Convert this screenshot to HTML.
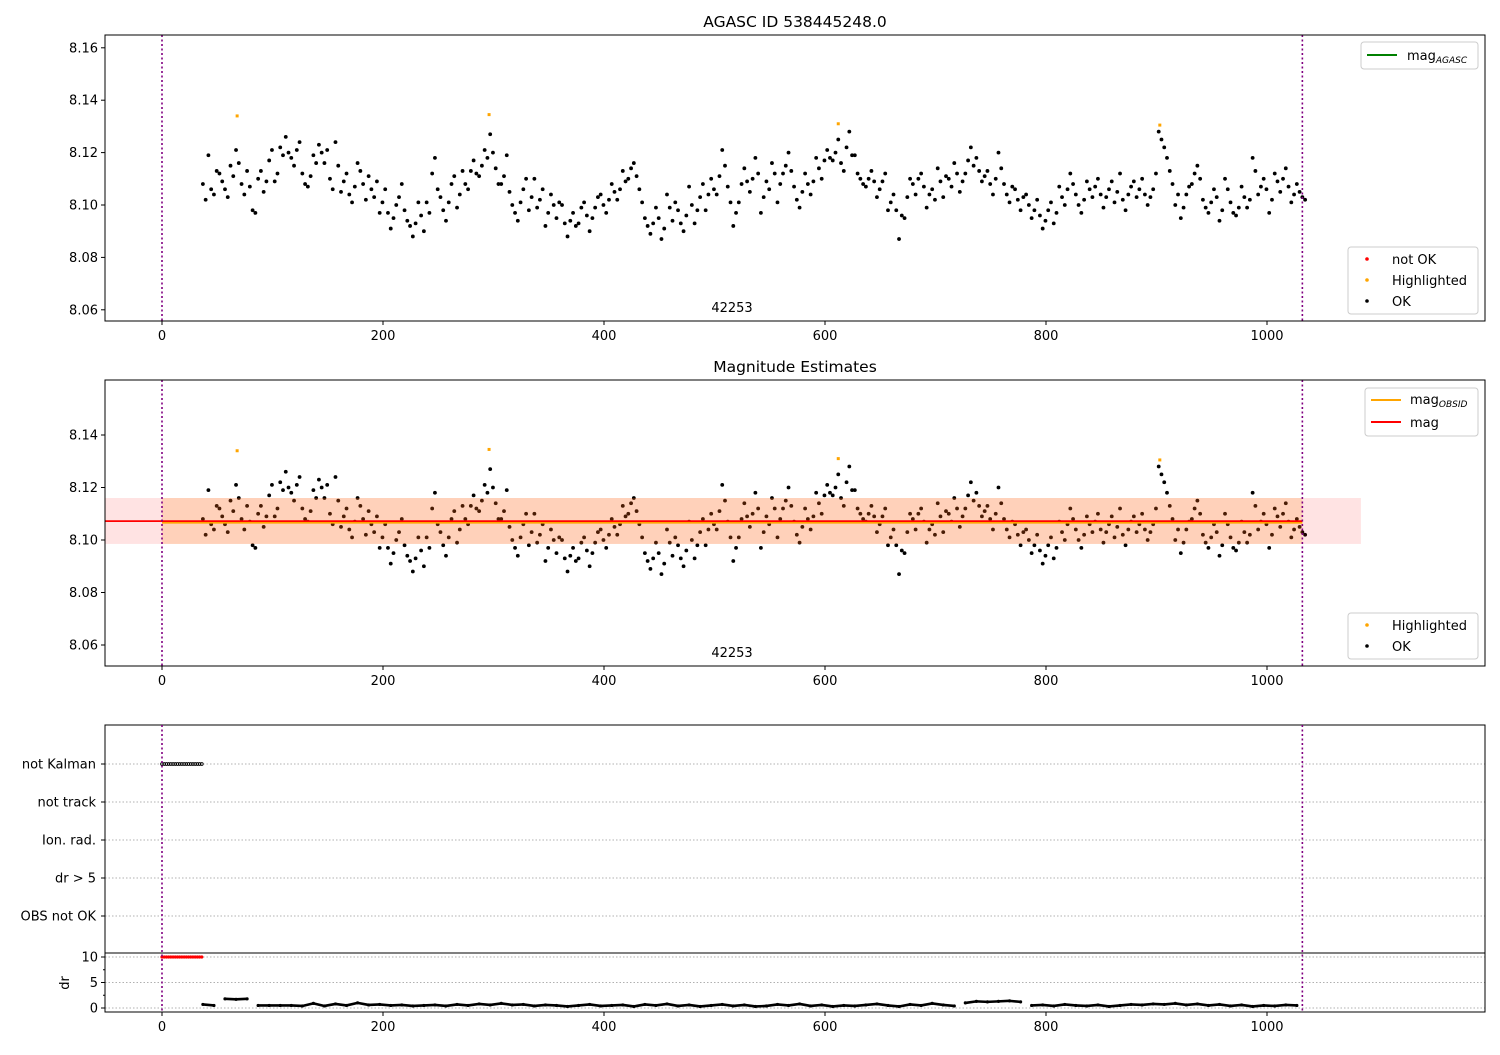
<!DOCTYPE html>
<html><head><meta charset="utf-8"><style>
body{margin:0;background:#fff}
svg text{font-family:"DejaVu Sans","Liberation Sans",sans-serif;font-size:13px;fill:#000}
</style></head><body>
<svg id="c" width="1500" height="1050" xmlns="http://www.w3.org/2000/svg"></svg>
<script>
// ---- data ----
const magStart = 37, magStep = 5;
const mags = [8.108,8.119,8.104,8.112,8.106,8.115,8.121,8.108,8.113,8.098,8.110,8.105,
8.117,8.109,8.122,8.126,8.118,8.121,8.112,8.107,8.119,8.123,8.116,8.110,
8.124,8.105,8.112,8.101,8.116,8.108,8.111,8.103,8.097,8.106,8.091,8.100,
8.108,8.094,8.088,8.101,8.090,8.097,8.118,8.103,8.094,8.108,8.099,8.113,
8.106,8.117,8.111,8.121,8.127,8.114,8.108,8.119,8.100,8.094,8.106,8.098,
8.110,8.102,8.092,8.104,8.095,8.100,8.088,8.097,8.093,8.101,8.090,8.099,
8.104,8.097,8.108,8.102,8.113,8.110,8.116,8.106,8.095,8.089,8.099,8.087,
8.104,8.094,8.098,8.090,8.107,8.093,8.103,8.098,8.110,8.104,8.121,8.107,
8.092,8.101,8.114,8.105,8.118,8.097,8.109,8.116,8.101,8.112,8.120,8.107,
8.099,8.112,8.104,8.118,8.110,8.121,8.117,8.125,8.113,8.128,8.119,8.110,
8.107,8.113,8.103,8.109,8.098,8.104,8.087,8.095,8.110,8.104,8.112,8.099,
8.106,8.114,8.103,8.110,8.116,8.105,8.112,8.122,8.118,8.109,8.113,8.104,
8.120,8.108,8.101,8.106,8.098,8.104,8.095,8.102,8.091,8.098,8.093,8.107,
8.100,8.112,8.104,8.097,8.109,8.103,8.110,8.099,8.106,8.101,8.112,8.098,
8.107,8.103,8.110,8.100,8.106,8.128,8.122,8.113,8.100,8.095,8.104,8.108,
8.115,8.102,8.097,8.106,8.094,8.110,8.101,8.096,8.107,8.099,8.118,8.104,
8.110,8.097,8.112,8.105,8.114,8.101,8.108,8.103];
const magStartB = 39.5;
const magsB = [8.102,8.106,8.113,8.109,8.103,8.111,8.116,8.104,8.107,8.097,8.113,8.109,
8.121,8.112,8.119,8.120,8.115,8.124,8.108,8.111,8.116,8.120,8.121,8.106,
8.115,8.109,8.104,8.107,8.113,8.102,8.106,8.109,8.101,8.097,8.095,8.103,
8.098,8.092,8.093,8.096,8.101,8.112,8.106,8.098,8.101,8.111,8.104,8.108,
8.113,8.112,8.115,8.118,8.120,8.108,8.111,8.105,8.097,8.101,8.110,8.103,
8.099,8.106,8.097,8.100,8.101,8.093,8.094,8.092,8.099,8.096,8.095,8.103,
8.100,8.102,8.105,8.106,8.109,8.114,8.111,8.101,8.092,8.093,8.095,8.091,
8.099,8.101,8.093,8.096,8.100,8.098,8.108,8.104,8.106,8.111,8.115,8.101,
8.097,8.108,8.109,8.110,8.112,8.103,8.106,8.112,8.108,8.115,8.113,8.102,
8.105,8.108,8.109,8.114,8.117,8.118,8.120,8.116,8.122,8.119,8.112,8.108,
8.110,8.109,8.106,8.112,8.101,8.098,8.096,8.103,8.108,8.110,8.107,8.104,
8.102,8.109,8.111,8.107,8.112,8.109,8.117,8.115,8.113,8.111,8.108,8.110,
8.114,8.104,8.107,8.102,8.103,8.100,8.098,8.096,8.094,8.101,8.097,8.103,
8.106,8.108,8.100,8.102,8.106,8.107,8.104,8.103,8.109,8.105,8.102,8.104,
8.109,8.106,8.104,8.103,8.112,8.125,8.118,8.108,8.104,8.099,8.107,8.112,
8.110,8.099,8.101,8.103,8.098,8.106,8.097,8.099,8.103,8.102,8.113,8.107,
8.106,8.102,8.109,8.110,8.107,8.104,8.105,8.102];
const hiTimes = [68,296,612,903];
const hiMags = [8.134,8.1345,8.131,8.1305];
const magMean = 8.107, magLo = 8.0985, magHi = 8.116;
const drStart = 37, drStep = 10;
const drVals = [0.7,0.5,1.8,1.7,1.8,0.5,0.5,0.5,0.5,0.4,0.9,0.4,0.8,0.5,1.0,0.6,0.7,0.5,0.6,0.4,
0.5,0.6,0.4,0.7,0.5,0.8,0.6,0.9,0.6,0.7,0.4,0.6,0.5,0.3,0.5,0.7,0.4,0.5,0.6,0.3,
0.7,0.5,0.8,0.4,0.6,0.3,0.5,0.7,0.4,0.6,0.3,0.4,0.7,0.5,0.8,0.4,0.6,0.3,0.5,0.4,
0.6,0.8,0.5,0.3,0.7,0.5,0.9,0.6,0.4,1.0,1.3,1.2,1.3,1.4,1.2,0.5,0.6,0.4,0.7,0.5,
0.4,0.6,0.3,0.5,0.7,0.6,0.8,0.7,0.9,0.6,0.8,0.5,0.7,0.4,0.6,0.3,0.5,0.4,0.6,0.5];
const notKalmanTimes = [0,2,4,6,8,10,12,14,16,18,20,22,24,26,28,30,32,34,36];
const categories = ["not Kalman","not track","Ion. rad.","dr > 5","OBS not OK"];
const xTicks = [0,200,400,600,800,1000];
const magTicks = [8.06,8.08,8.10,8.12,8.14,8.16];
const magTicks2 = [8.06,8.08,8.10,8.12,8.14];
const drTicks = [0,5,10];
const tStart = 0, tEnd = 1032, bandEnd = 1085;

// ---- helpers ----
const svg = document.getElementById('c');
const NS = 'http://www.w3.org/2000/svg';
function mk(tag, attrs, parent){const e=document.createElementNS(NS,tag);for(const k in attrs)e.setAttribute(k,attrs[k]);(parent||svg).appendChild(e);return e;}
function txt(s,x,y,anchor,parent){const t=mk('text',{x:x,y:y,'text-anchor':anchor||'middle'},parent);t.textContent=s;return t;}
const L=105,R=1485;
const X = v => 162 + v*1.105;
const Y1 = v => 205 - (v-8.10)/0.01*26.2;
const Y2 = v => 540 - (v-8.10)/0.01*26.25;
const Ycat = i => 764 + i*38;
const Ydr = v => 1008 - v*5.1;

function frame(top,bot,name){const r=mk('rect',{x:L,y:top,width:R-L,height:bot-top,fill:'none',stroke:'#000','stroke-width':1});}
function xAxis(bot,labels,name){const g=mk('g',{});
 xTicks.forEach(v=>{mk('line',{x1:X(v),x2:X(v),y1:bot,y2:bot+4,stroke:'#000'},g);if(labels)txt(String(v),X(v),bot+19,'middle',g);});}
function yAxis(ticks,Yf,fmt,name){const g=mk('g',{});
 ticks.forEach(v=>{mk('line',{x1:L-4,x2:L,y1:Yf(v),y2:Yf(v),stroke:'#000'},g);txt(fmt(v),L-7,Yf(v)+4.5,'end',g);});}
function vlines(top,bot){[tStart,tEnd].forEach(v=>{const l=mk('line',{x1:X(v),x2:X(v),y1:top,y2:bot,stroke:'#800080','stroke-width':1.6,'stroke-dasharray':'2,2.5'});});}
function scatter(Yf,name){const g=mk('g',{});
 mags.forEach((m,i)=>{mk('circle',{cx:X(magStart+i*magStep),cy:Yf(m),r:1.9,fill:'#000'},g);});
 magsB.forEach((m,i)=>{mk('circle',{cx:X(magStartB+i*magStep),cy:Yf(m),r:1.9,fill:'#000'},g);});
 const h=mk('g',{});
 hiTimes.forEach((t,i)=>{mk('rect',{x:X(t)-1.5,y:Yf(hiMags[i])-1.5,width:3,height:3,fill:'orange'},h);});}
function title(s,y){const t=txt(s,795,y);t.setAttribute('style','font-size:15.5px');return t;}

// ---- panel 1 ----
title('AGASC ID 538445248.0',27);
scatter(Y1,'agasc-points');
vlines(35,321);
frame(35,321,'agasc-plot-area');
xAxis(321,true,'x-axis-top');
yAxis(magTicks,Y1,v=>v.toFixed(2),'y-axis-top');
txt('42253',732,312);
let lg=mk('g',{});
mk('rect',{x:1361,y:42,width:117,height:27,rx:3,fill:'#fff',stroke:'#ccc'},lg);
mk('line',{x1:1367,x2:1397,y1:55,y2:55,stroke:'green','stroke-width':2},lg);
let t=txt('mag',1407,60,'start',lg);let s=mk('tspan',{style:'font-size:9px;font-style:italic',dy:'3'},t);s.textContent='AGASC';
lg=mk('g',{});
mk('rect',{x:1348,y:247,width:130,height:67,rx:3,fill:'#fff',stroke:'#ccc'},lg);
[['not OK','red',259],['Highlighted','orange',280],['OK','#000',301]].forEach(a=>{mk('circle',{cx:1367,cy:a[2],r:1.8,fill:a[1]},lg);txt(a[0],1392,a[2]+5,'start',lg);});

// ---- panel 2 ----
title('Magnitude Estimates',372);
scatter(Y2,'estimate-points');
let b=mk('rect',{x:L,y:Y2(magHi),width:X(bandEnd)-L,height:Y2(magLo)-Y2(magHi),fill:'red','fill-opacity':0.11});
b=mk('rect',{x:X(tStart),y:Y2(magHi),width:X(tEnd)-X(tStart),height:Y2(magLo)-Y2(magHi),fill:'#ff8c1a','fill-opacity':0.2});
let ml=mk('line',{x1:X(tStart),x2:X(tEnd),y1:Y2(magMean)+1,y2:Y2(magMean)+1,stroke:'orange','stroke-width':2});
ml=mk('line',{x1:L,x2:X(tEnd),y1:Y2(magMean)-0.5,y2:Y2(magMean)-0.5,stroke:'red','stroke-width':1.8});
vlines(380,666);
frame(380,666,'estimates-plot-area');
xAxis(666,true,'x-axis-middle');
yAxis(magTicks2,Y2,v=>v.toFixed(2),'y-axis-middle');
txt('42253',732,657);
lg=mk('g',{});
mk('rect',{x:1365,y:388,width:113,height:48,rx:3,fill:'#fff',stroke:'#ccc'},lg);
mk('line',{x1:1371,x2:1401,y1:400,y2:400,stroke:'orange','stroke-width':2},lg);
t=txt('mag',1410,404,'start',lg);s=mk('tspan',{style:'font-size:9px;font-style:italic',dy:'3'},t);s.textContent='OBSID';
mk('line',{x1:1371,x2:1401,y1:422,y2:422,stroke:'red','stroke-width':2},lg);
txt('mag',1410,427,'start',lg);
lg=mk('g',{});
mk('rect',{x:1348,y:613,width:130,height:46,rx:3,fill:'#fff',stroke:'#ccc'},lg);
[['Highlighted','orange',625],['OK','#000',646]].forEach(a=>{mk('circle',{cx:1367,cy:a[2],r:1.8,fill:a[1]},lg);txt(a[0],1392,a[2]+5,'start',lg);});

// ---- panel 3 flags ----
let g3=mk('g',{});
categories.forEach((c,i)=>{mk('line',{x1:L,x2:R,y1:Ycat(i),y2:Ycat(i),stroke:'#b0b0b0','stroke-dasharray':'1.5,2'},g3);mk('line',{x1:L-4,x2:L,y1:Ycat(i),y2:Ycat(i),stroke:'#000'},g3);txt(c,96,Ycat(i)+4.5,'end',g3);});
let gk=mk('g',{});
notKalmanTimes.forEach(v=>mk('circle',{cx:X(v),cy:Ycat(0),r:1.4,fill:'none',stroke:'#000','stroke-width':0.9},gk));
frame(725,953,'flags-plot-area');

// ---- panel 4 dr ----
let gd=mk('g',{});
drTicks.forEach(v=>mk('line',{x1:L,x2:R,y1:Ydr(v),y2:Ydr(v),stroke:'#b0b0b0','stroke-dasharray':'1.5,2'},gd));
[2.5,7.5].forEach(v=>mk('line',{x1:L-2,x2:L,y1:Ydr(v),y2:Ydr(v),stroke:'#000'},gd));
let gr=mk('g',{});
notKalmanTimes.forEach(v=>mk('circle',{cx:X(v),cy:Ydr(10),r:1.6,fill:'red'},gr));
let gb=mk('g',{});
drVals.forEach((d,i)=>{const x=X(drStart+i*drStep);mk('circle',{cx:x,cy:Ydr(d),r:1.6,fill:'#000'},gb);
 if(i<drVals.length-1&&Math.abs(drVals[i+1]-d)<0.6)mk('line',{x1:x,y1:Ydr(d),x2:X(drStart+(i+1)*drStep),y2:Ydr(drVals[i+1]),stroke:'#000','stroke-width':2.6},gb);});
vlines(725,1012);
frame(953,1012,'dr-plot-area');
xAxis(1012,true,'x-axis-bottom');
yAxis(drTicks,Ydr,v=>String(v),'y-axis-dr');
let yl=txt('dr',0,0);yl.setAttribute('transform','translate(69,983) rotate(-90)');
</script>
</body></html>
